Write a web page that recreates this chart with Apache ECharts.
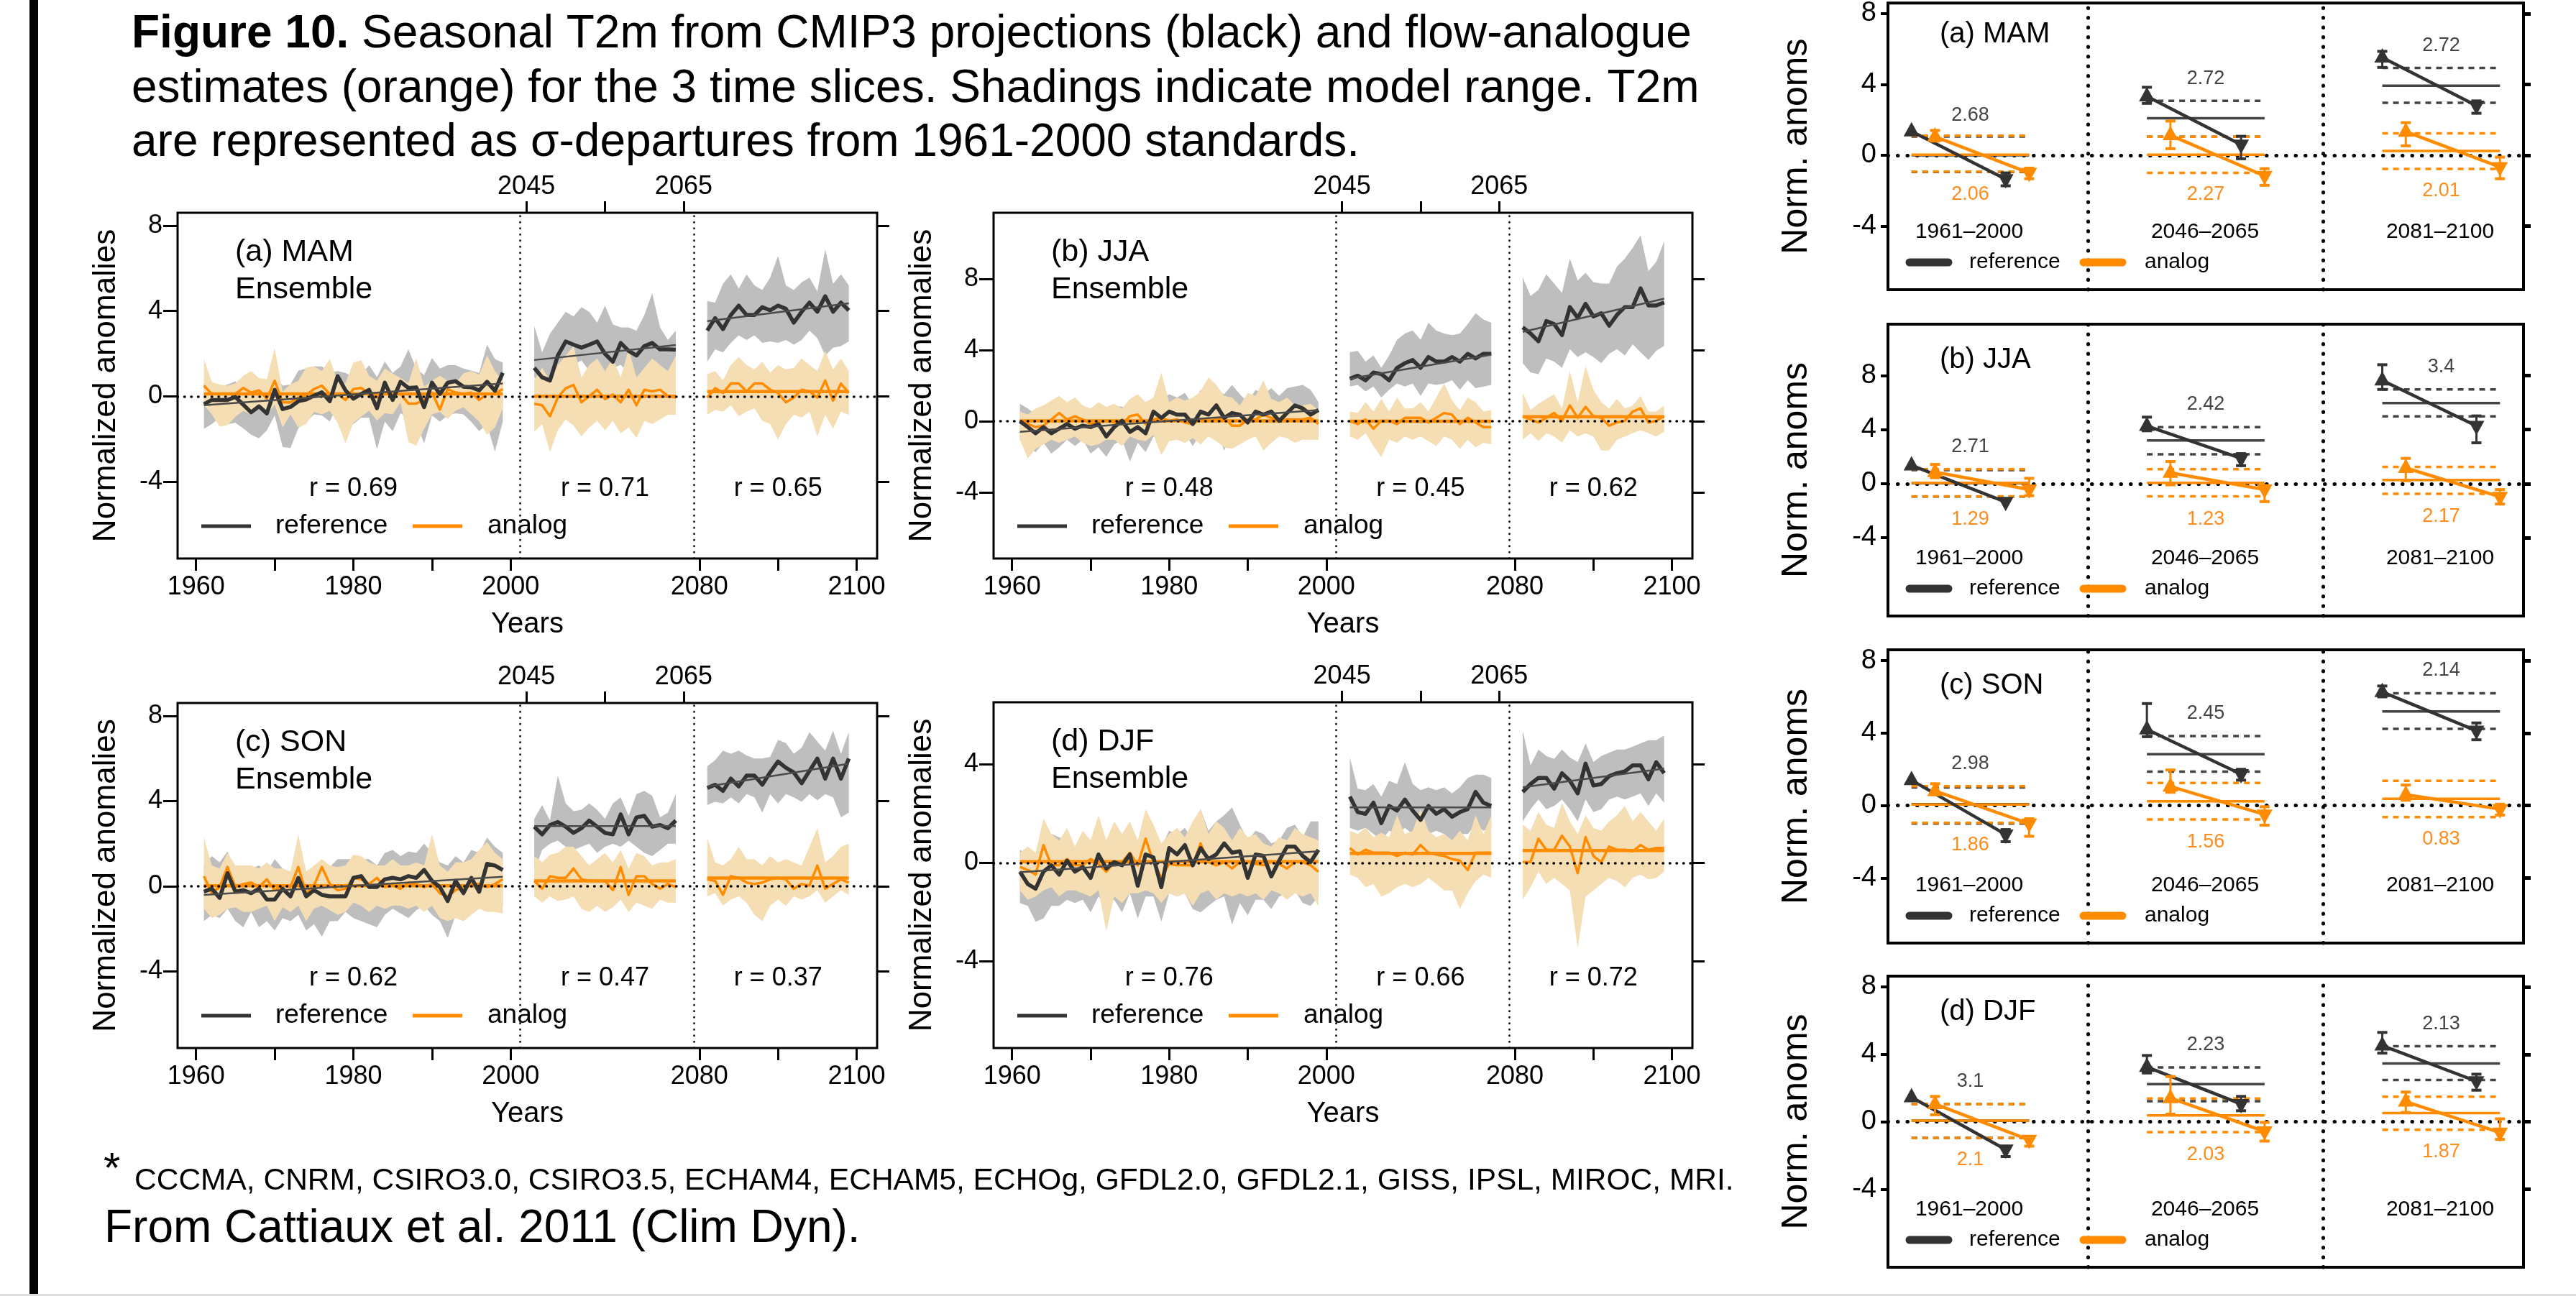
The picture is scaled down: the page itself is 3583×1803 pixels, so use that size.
<!DOCTYPE html>
<html><head><meta charset="utf-8">
<script src="https://cdn.jsdelivr.net/npm/echarts@6/dist/echarts.min.js"></script>
<style>html,body{margin:0;padding:0;background:#fff;}#c{width:3583px;height:1803px;}</style>
</head><body><div id="c"></div>
<script>
// ---------------- DATA ----------------
const seasons = ['MAM','JJA','SON','DJF'];
const panelTags = ['(a)','(b)','(c)','(d)'];
const years1 = []; for (let y = 1961; y <= 1999; y++) years1.push(y);
const years2 = []; for (let y = 2046; y <= 2064; y++) years2.push(y);
const years3 = []; for (let y = 2081; y <= 2099; y++) years3.push(y);
const bottomTickYears = [1960,1970,1980,1990,2000,2080,2090,2100];
const bottomLabelYears = [1960,1980,2000,2080,2100];
const topTickYears = [2045,2055,2065];
const topLabelYears = [2045,2065];
const periods = ['1961–2000','2046–2065','2081–2100'];
const rValues = [['0.69','0.71','0.65'],['0.48','0.45','0.62'],['0.62','0.47','0.37'],['0.76','0.66','0.72']];

// MAM
const mamRef = [-0.37,-0.17,-0.17,-0.17,-0.03,-0.39,-0.75,-0.47,-0.8,0.3,-0.6,-0.5,-0.23,-0.15,0.03,0.19,-0.23,0.94,0.28,-0.11,0.11,0.3,-0.56,0.64,-0.17,0.68,0.39,0.42,-0.51,0.64,0.11,0.64,0.71,0.45,0.42,0.28,0.68,0.26,1.1,
 1.33,0.89,0.74,1.91,2.57,2.42,2.28,2.42,2.57,1.99,1.62,2.5,2.13,1.91,2.35,2.5,2.2,2.2,2.18,
 3.08,3.66,3.15,3.81,4.25,3.81,3.81,4.18,4.03,4.25,4.1,3.45,3.96,4.39,3.96,4.69,3.96,4.39,4.03];
const mamRefHi = [0.6,0.5,0.45,0.55,0.7,0.3,0.2,0.4,0.2,1.0,0.5,0.55,1.2,1.3,1.4,1.4,1.1,1.18,1.1,0.9,1.0,1.46,0.9,1.63,1.1,1.4,2.2,1.3,1.0,1.8,1.3,1.46,1.46,1.3,1.2,1.1,2.42,1.75,1.58,
 3.3,2.06,2.93,3.45,3.96,3.74,4.18,3.96,3.45,4.25,3.37,3.23,3.23,3.08,3.81,4.83,3.23,2.64,3.08,
 4.47,4.39,5.27,5.71,5.05,5.71,5.2,4.98,5.56,6.58,5.2,4.98,5.34,5.56,4.91,6.88,5.27,5.71,5.2];
const mamRefLo = [-1.52,-1.3,-1.0,-1.3,-1.24,-1.5,-1.8,-1.97,-1.6,-0.9,-2.37,-2.42,-1.5,-1.2,-0.85,-0.9,-1.18,-0.4,-1.41,-1.3,-1.0,-1.0,-2.48,-1.18,-1.63,-0.8,-1.0,-1.3,-2.2,-0.9,-1.18,-0.9,-0.8,-0.85,-1.2,-1.63,-1.3,-2.6,-1.18,
 0.89,0.45,0.6,1.04,1.33,1.47,1.69,1.18,1.26,0.89,1.33,1.47,1.11,0.74,0.74,1.26,0.89,1.18,1.47,
 1.62,2.2,2.06,2.5,2.86,2.64,2.86,2.5,2.57,2.5,2.64,2.42,2.64,3.08,2.72,1.91,2.28,2.35,2.57];
const mamAna = [0.5,0.11,0.11,0.11,0.11,0.39,0.17,0.28,-0.11,0.73,-0.28,-0.28,-0.06,0.06,0.34,0.5,0.11,0.11,-0.17,0.34,0.39,0.11,-0.06,0.17,0.11,0.11,-0.34,-0.34,-0.17,0.17,-0.62,0.34,0.17,0.11,0.17,-0.17,0.11,0.11,0.34,
 -0.35,-0.42,-0.93,-0.06,0.38,0.53,-0.28,0.01,0.31,-0.13,0.09,-0.28,0.31,-0.42,0.31,0.23,0.31,0.01,-0.06,
 -0.06,0.38,0.16,0.6,0.6,0.23,0.6,0.6,0.31,0.16,-0.28,-0.06,0.31,0.23,-0.06,0.74,-0.2,0.6,0.16];
const mamAnaHi = [1.75,0.68,0.55,0.5,0.6,0.96,1.18,0.85,0.8,2.25,0.23,0.56,0.73,1.35,1.4,1.18,1.75,0.73,0.62,1.58,1.69,0.96,0.73,1.3,1.07,0.85,0.62,1.8,0.45,0.73,0.96,0.73,0.62,1.07,1.18,1.01,1.92,1.18,0.73,
 0.74,1.33,0.74,1.47,1.91,2.35,0.89,1.47,1.77,1.18,1.77,0.89,2.2,0.89,1.33,1.77,1.47,1.18,1.91,
 1.04,1.18,0.74,1.47,1.84,1.47,1.26,1.62,1.11,1.47,1.26,1.33,1.77,1.47,1.18,2.13,1.26,1.77,1.18];
const mamAnaLo = [-0.39,-0.85,-1.41,-1.35,-0.96,-0.68,-0.85,-0.51,-0.85,-0.39,-1.46,-0.85,-1.46,-1.3,-0.73,-0.85,-0.68,-1.24,-2.2,-1.24,-0.96,-0.68,-1.13,-0.79,-0.85,-0.28,-2.14,-2.31,-1.52,-0.85,-0.73,-1.07,-0.68,-0.51,-0.85,-1.18,-1.8,-1.46,-0.56,
 -1.66,-1.3,-2.61,-1.59,-1.08,-1.37,-1.88,-1.45,-1.15,-1.59,-1.15,-1.74,-1.45,-1.96,-1.15,-1.3,-1.08,-0.86,-0.86,
 -0.86,-0.64,-0.72,-0.42,-0.93,-0.72,-0.57,-1.15,-1.3,-2.03,-1.3,-0.86,-1.0,-0.72,-1.88,-0.86,-1.52,-0.72,-0.86];
const mamRefTrend = [[-0.42,0.6],[1.7,2.4],[3.52,4.36]];
const mamAnaTrend = [[0.11,0.11],[0.0,0.0],[0.22,0.22]];

// JJA
const jjaRef = [0,-0.33,-0.68,-0.33,-0.68,-0.42,-0.16,-0.42,-0.25,-0.33,-0.16,-0.86,-0.33,0.02,-0.6,-0.33,-0.68,0.54,0.19,0.54,0.37,0.37,-0.16,0.54,0.37,0.89,0.19,0.46,0.37,-0.07,0.54,0.37,0.54,0.02,0.46,0.89,0.72,0.37,0.63,
 2.39,2.56,2.3,2.74,2.65,2.3,3.0,3.26,3.44,3.0,3.61,3.35,3.35,3.61,3.35,3.79,3.53,3.79,3.79,
 5.28,4.93,4.49,5.63,5.46,4.84,6.42,5.81,6.6,5.89,6.07,5.37,5.98,6.42,6.42,7.47,6.51,6.51,6.68];
const jjaRefHi = [0.98,0.72,0.37,0.72,0.54,0.72,0.89,0.72,0.89,0.37,0.54,0.37,0.89,0.81,0.72,1.07,0.54,1.07,1.25,1.51,1.33,1.6,0.89,1.77,1.42,1.77,1.51,2.04,1.51,1.07,1.77,1.51,1.86,1.42,1.86,1.95,2.04,1.77,1.07,
 3.88,3.96,3.35,3.7,3.0,3.7,4.58,4.93,5.1,4.58,5.54,5.1,4.93,4.84,4.93,5.46,6.07,5.72,5.54,
 8.09,7.04,7.39,8.26,7.74,7.21,9.14,7.91,8.35,7.82,7.74,7.74,8.7,9.14,9.75,10.46,8.44,8.96,10.1];
const jjaRefLo = [-1.04,-1.47,-1.74,-1.21,-1.82,-1.47,-1.04,-1.39,-1.04,-1.82,-1.47,-2.0,-1.3,-1.04,-2.26,-1.21,-1.74,-0.86,-1.04,-0.6,-0.42,-0.68,-1.39,-0.68,-0.68,-0.51,-1.65,-0.68,-1.21,-0.95,-0.68,-0.51,-1.04,-0.42,-0.33,-0.16,-0.16,-0.33,-0.86,
 1.95,2.04,1.68,1.95,1.33,1.77,2.12,1.95,2.12,1.42,2.12,2.04,2.12,2.3,1.77,2.3,1.86,1.95,2.04,
 3.26,2.74,2.65,3.53,3.35,3.0,4.05,3.61,3.88,3.61,3.26,3.79,4.05,3.7,4.32,3.88,3.44,3.96,4.23];
const jjaAna = [0.02,-0.16,-0.33,-0.25,0.1,0.46,0.1,0.28,0.1,-0.16,-0.07,0.02,-0.07,-0.16,0.28,0.37,-0.16,0.1,0.19,0.02,0.1,-0.07,-0.16,0.1,0.02,0.1,0.19,-0.25,-0.25,0.1,0.1,0.37,0.19,0.02,0.1,0.1,0.1,0.19,-0.16,
 0.02,-0.16,0.1,-0.42,0.02,0.02,-0.16,0.19,0.19,0.19,-0.07,0.19,0.46,0.37,-0.16,0.19,-0.07,-0.33,-0.33,
 0.28,0.1,-0.07,0.19,0.46,0.02,0.89,0.19,0.81,0.28,0.19,-0.25,-0.07,0.02,0.54,0.72,-0.07,0.02,0.28];
const jjaAnaHi = [0.54,0.37,0.72,0.89,1.16,1.42,1.07,1.33,0.89,0.72,1.07,0.81,0.98,0.72,1.25,1.51,1.07,1.33,2.74,1.07,1.33,1.16,1.33,1.68,2.47,2.04,1.42,1.33,0.89,1.6,1.42,2.3,1.25,1.07,1.33,0.89,0.89,0.98,0.63,
 0.54,0.46,1.07,0.54,1.25,0.54,1.33,0.72,0.72,1.07,0.54,1.33,2.12,1.16,0.63,1.33,1.07,0.54,0.63,
 1.6,0.63,0.98,1.25,1.51,0.72,2.82,1.07,3.09,1.77,1.07,0.72,1.25,0.72,0.89,1.42,0.54,0.54,0.89];
const jjaAnaLo = [-1.04,-2.09,-1.56,-1.3,-1.04,-1.21,-1.04,-0.86,-1.21,-1.39,-1.3,-1.04,-1.04,-1.39,-0.86,-1.04,-1.12,-0.77,-1.91,-1.12,-1.04,-1.21,-0.95,-1.3,-0.86,-1.12,-1.47,-1.56,-1.3,-1.04,-0.86,-1.65,-1.21,-0.86,-0.95,-1.21,-1.04,-1.04,-1.04,
 -0.86,-1.04,-0.68,-1.39,-2.02,-1.04,-1.21,-0.86,-1.04,-0.86,-1.12,-1.39,-0.86,-1.04,-1.56,-1.04,-1.47,-1.21,-1.3,
 -1.04,-0.68,-1.12,-0.68,-0.86,-1.21,-0.51,-0.86,-0.68,-0.86,-1.65,-1.65,-1.04,-0.86,-0.68,-0.51,-0.68,-0.86,-0.6];
const jjaRefTrend = [[-0.6,0.63],[2.39,3.74],[5.02,6.89]];
const jjaAnaTrend = [[0.02,0.02],[0.0,0.0],[0.25,0.25]];

// SON
const sonRef = [-0.26,-0.12,-0.55,0.61,-0.26,-0.19,-0.33,-0.12,-0.63,-0.63,-0.12,-0.48,0.39,-0.48,-0.19,-0.41,-0.48,-0.48,-0.48,0.39,0.47,-0.04,-0.04,0.32,0.39,0.32,0.47,0.39,0.76,0.25,-0.04,-0.7,0.25,-0.33,0.39,-0.26,1.05,0.97,0.76,
 2.79,2.43,2.87,3.01,2.79,2.5,2.72,3.08,2.79,2.5,2.43,3.37,2.43,3.23,3.3,2.79,2.87,2.72,3.08,
 4.61,4.76,4.47,5.05,4.68,5.19,5.19,4.76,5.34,5.85,5.56,5.34,4.83,5.41,5.99,5.05,5.99,5.05,5.99];
const sonRefHi = [0.97,1.41,1.12,1.63,0.68,0.97,0.83,0.97,0.68,1.27,0.83,0.68,1.56,0.68,0.83,0.68,0.9,1.27,1.27,1.27,1.27,1.27,0.97,1.56,1.7,1.41,1.63,1.56,1.99,1.56,1.12,0.97,1.41,1.12,1.7,1.56,2.28,1.85,1.56,
 3.16,3.81,3.08,5.19,3.88,3.52,3.59,3.88,3.59,3.16,3.88,4.17,3.3,4.32,4.47,4.25,3.23,3.45,4.32,
 5.63,5.92,6.36,6.21,6.36,6.14,5.99,5.99,6.07,6.87,6.72,6.21,6.5,7.23,6.79,6.36,7.3,6.21,7.23];
const sonRefLo = [-1.64,-1.35,-1.5,-1.06,-1.64,-1.93,-1.21,-1.93,-1.64,-2.08,-1.5,-1.64,-1.35,-2.08,-1.79,-2.37,-1.64,-1.64,-1.21,-1.5,-1.64,-1.79,-1.93,-1.35,-1.06,-1.28,-1.5,-1.13,-0.92,-1.35,-1.64,-2.44,-1.35,-1.64,-1.21,-1.06,-0.48,-0.63,-0.92,
 0.68,1.7,1.99,2.14,1.85,1.7,1.85,1.99,1.56,1.85,1.99,1.85,2.14,1.85,1.56,1.41,1.7,1.99,1.99,
 3.81,3.96,3.88,4.17,3.88,4.32,4.17,3.45,4.32,3.88,4.32,4.17,3.96,4.32,4.03,4.32,4.17,3.23,3.45];
const sonAna = [0.47,-0.33,-0.04,0.9,-0.04,0.1,0.17,-0.04,0.32,-0.19,0.03,-0.04,0.9,-0.33,0.03,0.9,0.1,-0.19,-0.12,0.39,0.32,0.1,0.39,-0.04,0.03,-0.12,0.17,0.1,-0.04,0.1,-0.33,-0.48,-0.19,-0.04,0.1,0.1,-0.04,0.1,0.32,
 0.25,-0.12,0.47,0.39,0.39,0.83,0.32,0.25,0.25,0.25,-0.19,0.9,-0.41,0.47,0.47,0.1,-0.12,0.1,-0.04,
 0.32,0.25,-0.41,0.47,0.39,0.17,0.1,0.17,0.32,0.39,0.32,-0.12,0.1,0.03,0.97,-0.12,0.1,0.32,0.17];
const sonAnaHi = [2.28,0.97,0.83,1.56,0.97,0.97,0.97,0.83,1.12,0.83,0.83,0.68,2.43,0.68,0.97,1.27,0.97,0.9,0.97,1.48,1.41,1.12,0.97,0.97,1.27,0.97,0.97,1.12,0.97,2.43,0.97,0.68,1.12,1.12,1.27,1.7,2.07,1.56,1.27,
 1.41,1.12,1.48,1.56,1.85,1.85,1.41,0.97,1.27,1.56,1.12,1.7,0.83,1.56,1.41,0.97,1.12,1.12,1.27,
 2.28,1.12,0.97,1.27,1.85,1.27,1.27,0.97,1.41,1.12,1.27,1.12,0.97,1.85,2.72,1.12,1.41,1.85,1.99];
const sonAnaLo = [-1.06,-1.5,-1.35,-1.06,-0.99,-1.21,-1.21,-1.06,-0.92,-1.64,-0.99,-1.21,-0.92,-1.64,-1.06,-0.92,-1.13,-1.35,-1.21,-0.77,-0.92,-1.21,-0.92,-1.06,-0.92,-0.92,-1.06,-0.92,-1.21,-0.92,-1.5,-1.64,-1.5,-1.64,-1.35,-1.06,-1.21,-1.21,-1.28,
 -0.48,-0.77,-0.48,-0.7,-0.63,-0.48,-1.06,-1.21,-0.92,-1.21,-0.99,-0.63,-1.21,-0.77,-0.92,-1.06,-0.63,-0.77,-0.77,
 -0.48,-0.33,-0.92,-0.63,-0.48,-0.77,-1.35,-1.64,-0.92,-0.63,-0.92,-0.48,-0.63,-0.48,-0.19,-0.77,-0.48,-0.19,-0.41];
const sonRefTrend = [[-0.41,0.44],[2.82,2.82],[4.68,5.75]];
const sonAnaTrend = [[0.02,0.02],[0.25,0.25],[0.38,0.38]];

// DJF
const djfRef = [-0.36,-0.86,-1.05,-0.36,-0.1,-0.48,0.09,-0.36,-0.17,-0.61,0.34,-0.23,0.03,-0.1,0.34,-0.93,0.34,0.22,-0.99,0.6,0.34,0.72,-0.1,0.6,0.15,0.34,0.79,0.41,0.47,-0.61,0.34,0.28,-0.55,0.09,0.66,0.66,0.28,0.03,0.53,
 2.69,2.06,1.99,2.44,1.61,2.31,2.12,2.57,2.12,1.74,2.31,1.99,2.18,1.87,2.06,2.18,2.88,2.44,2.31,
 2.88,3.2,3.45,3.45,3.01,3.64,3.33,2.82,4.03,3.14,3.2,3.52,3.64,3.71,3.96,3.96,3.39,4.09,3.64];
const djfRefHi = [0.53,0.34,0.15,0.66,1.17,1.04,0.91,0.66,0.79,0.41,1.17,0.79,0.91,0.66,1.17,0.28,1.3,1.04,0.66,1.3,1.17,1.42,0.91,2.18,1.3,1.68,1.93,2.25,1.55,0.91,1.3,1.17,0.79,0.91,1.42,1.55,1.04,1.68,1.68,
 4.28,3.01,2.95,3.2,2.69,3.33,3.2,4.09,3.2,2.95,3.07,2.95,3.07,2.82,3.07,3.45,3.58,3.58,3.45,
 5.36,3.96,4.6,4.34,4.22,4.6,4.28,4.09,4.85,4.09,4.34,4.47,4.6,4.6,4.72,4.85,4.98,4.98,5.17];
const djfRefLo = [-1.63,-1.75,-2.39,-2.26,-1.75,-1.75,-1.5,-1.63,-1.5,-2.01,-1.37,-1.75,-1.5,-2.01,-1.24,-2.26,-1.37,-1.37,-2.39,-1.24,-1.37,-1.24,-1.88,-2.01,-1.75,-1.5,-1.37,-2.51,-1.63,-2.13,-1.5,-1.5,-1.88,-1.37,-1.24,-1.12,-1.63,-1.75,-1.37,
 1.42,1.3,1.42,1.17,0.91,1.3,1.17,1.42,1.17,0.91,1.17,1.3,1.17,0.91,1.17,1.17,1.55,1.3,1.42,
 1.68,2.18,2.57,2.18,2.31,2.57,2.18,1.68,2.57,2.06,2.18,2.57,2.69,2.57,2.69,2.82,2.31,2.82,2.44];
const djfAna = [-0.17,-0.29,-0.48,0.72,-0.1,-0.1,0.15,-0.1,-0.1,0.15,-0.04,-0.36,0.03,0.03,0.41,-0.1,0.98,0.03,-0.61,-0.04,-0.1,-0.1,-0.1,0.79,0.03,-0.1,0.03,-0.23,0.03,0.03,-0.04,-0.1,0.03,-0.04,-0.23,0.03,0.03,-0.1,-0.36,
 0.6,0.34,0.53,0.41,0.41,0.41,0.28,0.41,0.34,0.72,0.41,0.34,0.28,0.15,0.09,-0.29,0.41,0.41,0.41,
 0.03,0.03,0.98,0.53,0.53,1.1,0.66,-0.42,1.04,0.28,0.03,0.66,0.53,0.53,0.47,0.72,0.53,0.6,0.6];
const djfAnaHi = [0.41,0.66,0.41,1.8,1.17,0.91,1.42,0.66,1.3,0.91,1.93,0.91,1.68,1.17,1.68,0.91,2.18,1.55,0.79,1.17,1.42,1.04,1.68,2.18,1.17,1.68,1.42,0.91,1.42,1.04,1.17,0.79,0.66,1.04,0.91,1.42,1.17,1.04,0.91,
 1.3,1.17,1.42,1.04,1.23,1.04,1.93,1.17,1.3,2.18,1.3,1.04,1.17,0.91,1.3,0.91,1.93,1.17,1.93,
 1.55,1.3,2.06,1.55,1.42,2.44,1.68,1.17,1.93,1.42,1.3,1.68,1.93,2.31,1.68,2.06,1.68,1.3,1.8];
const djfAnaLo = [-1.12,-1.5,-1.37,-1.12,-0.99,-1.37,-1.12,-1.12,-1.24,-1.37,-1.12,-2.77,-1.37,-1.63,-1.24,-1.24,-1.12,-1.24,-1.63,-1.24,-1.37,-1.24,-1.75,-1.24,-1.12,-1.5,-1.24,-1.37,-1.24,-1.37,-1.24,-1.5,-1.12,-1.24,-1.5,-1.24,-1.37,-1.24,-1.75,
 -0.48,-0.61,-0.99,-0.86,-1.37,-1.24,-0.99,-0.86,-0.99,-0.86,-0.61,-0.86,-1.12,-1.12,-1.88,-1.24,-0.74,-0.48,-0.61,
 -1.5,-0.99,-0.36,-0.86,-0.61,-0.86,-1.12,-3.47,-1.37,-1.12,-0.86,-0.61,-0.74,-0.99,-0.61,-0.48,-0.67,-0.61,-0.36];
const djfRefTrend = [[-0.38,0.47],[2.25,2.25],[3.07,3.83]];
const djfAnaTrend = [[0.05,0.05],[0.38,0.38],[0.5,0.5]];

// Right column: rows MAM, JJA, SON, DJF ; columns = the 3 periods
const refUp     = [[1.35,3.33,5.52],[1.35,4.27,7.64],[1.4,4.2,6.27],[1.45,3.25,4.52]];
const refUpLo   = [[null,2.93,4.96],[null,3.91,6.97],[null,3.8,6.0],[null,2.89,4.07]];
const refUpHi   = [[null,3.84,5.87],[null,4.92,8.8],[null,5.63,6.6],[null,3.93,5.3]];
const refDown   = [[-1.35,0.6,2.8],[-1.36,1.87,4.27],[-1.6,1.73,4.13],[-1.65,1.05,2.4]];
const refDownLo = [[-1.73,-0.2,2.37],[null,1.33,3.02],[-2.0,1.4,3.63],[-2.07,0.65,1.87]];
const refDownHi = [[-1.0,1.07,3.07],[null,2.22,5.01],[-1.33,2.0,4.56],[-1.5,1.5,2.82]];
const refMean   = [[0.0,2.09,3.93],[0.03,3.2,5.96],[0.07,2.83,5.2],[0.06,2.23,3.46]];
const refDashHi = [[1.05,3.07,4.93],[1.0,4.18,6.97],[1.0,3.84,6.2],[1.05,3.22,4.48]];
const refDashLo = [[-0.95,1.04,2.96],[-0.95,2.17,4.98],[-1.0,1.87,4.23],[-0.96,1.22,2.47]];
const anaUp     = [[1.05,1.13,1.33],[0.85,0.8,1.16],[0.8,1.05,0.6],[1.05,1.4,1.19]];
const anaUpLo   = [[0.8,0.37,0.53],[0.44,-0.09,0.21],[0.6,0.73,0.29],[0.41,0.45,0.55]];
const anaUpHi   = [[1.4,1.93,1.84],[1.42,1.64,1.87],[1.2,1.96,1.13],[1.5,2.68,1.76]];
const anaDown   = [[-1.0,-1.17,-0.67],[-0.44,-0.44,-0.98],[-1.0,-0.5,-0.2],[-1.08,-0.58,-0.65]];
const anaDownLo = [[-1.33,-1.7,-1.33],[-0.89,-1.33,-1.51],[-1.7,-1.09,-0.53],[-1.45,-1.15,-1.05]];
const anaDownHi = [[-0.73,-0.76,-0.11],[0.39,-0.14,-0.44],[-0.73,-0.07,0.07],[-0.9,-0.04,0.17]];
const anaMean   = [[0.03,0.03,0.24],[0.05,0.05,0.27],[0.05,0.23,0.37],[0.06,0.37,0.51]];
const anaDashHi = [[1.1,1.04,1.24],[1.07,1.07,1.24],[1.07,1.24,1.36],[1.05,1.38,1.48]];
const anaDashLo = [[-0.93,-1.0,-0.77],[-0.94,-0.94,-0.76],[-0.96,-0.77,-0.64],[-0.96,-0.62,-0.48]];
const refDiff = [['2.68','2.72','2.72'],['2.71','2.42','3.4'],['2.98','2.45','2.14'],['3.1','2.23','2.13']];
const anaDiff = [['2.06','2.27','2.01'],['1.29','1.23','2.17'],['1.86','1.56','0.83'],['2.1','2.03','1.87']];

// ---------------- LAYOUT / STYLE ----------------
const FF = '"Liberation Sans", Arial, Helvetica, sans-serif';
const C_DARK = '#333333', C_OR = '#FF8C00', C_GRAY = '#BEBEBE', C_WHEAT = '#F5DEB3';
const XMIN = -2.35, XMAX = 86.6;
const LG = [
  {l:247, t:296, w:973, h:481, ylim:[-7,8],  yt:[-4,0,4,8]},
  {l:1382,t:296, w:972, h:481, ylim:[-7,11], yt:[-4,0,4,8]},
  {l:247, t:978, w:973, h:480, ylim:[-7,8],  yt:[-4,0,4,8]},
  {l:1382,t:977, w:972, h:481, ylim:[-7,6],  yt:[-4,0,4]}
];
const RG = [
  {l:2626,t:-2,  w:884,h:405, ylim:[-7,8],  off:2.25},
  {l:2626,t:451, w:884,h:406, ylim:[-9,11], off:2.68},
  {l:2626,t:904, w:884,h:408, ylim:[-7,8],  off:2.25},
  {l:2626,t:1358,w:884,h:405, ylim:[-8,8],  off:2.32}
];
const ext = a => { const d = (a[1]-a[0])*0.04; return [a[0]-d, a[1]+d]; };
const posOf = y => y <= 2000 ? y - 1960 : (y <= 2072 ? y - 2003 : y - 2016);
const allYears = years1.concat(years2, years3);
const POS = allYears.map(posOf);
const SEG = [[0, years1.length], [years1.length, years1.length+years2.length], [years1.length+years2.length, allYears.length]];
const labelMap = {};
bottomTickYears.concat(topTickYears).forEach(y => labelMap[posOf(y)] = String(y));

const TS = [
  {ref:mamRef, refLo:mamRefLo, refHi:mamRefHi, ana:mamAna, anaLo:mamAnaLo, anaHi:mamAnaHi, rt:mamRefTrend, at:mamAnaTrend},
  {ref:jjaRef, refLo:jjaRefLo, refHi:jjaRefHi, ana:jjaAna, anaLo:jjaAnaLo, anaHi:jjaAnaHi, rt:jjaRefTrend, at:jjaAnaTrend},
  {ref:sonRef, refLo:sonRefLo, refHi:sonRefHi, ana:sonAna, anaLo:sonAnaLo, anaHi:sonAnaHi, rt:sonRefTrend, at:sonAnaTrend},
  {ref:djfRef, refLo:djfRefLo, refHi:djfRefHi, ana:djfAna, anaLo:djfAnaLo, anaHi:djfAnaHi, rt:djfRefTrend, at:djfAnaTrend}
];

const grids = [], xAxes = [], yAxes = [], series = [], graphics = [];
const tickStyle = {color:'#000', width:3};
const noLine = {show:false, onZero:false};
const pxX = (L, p) => L.l + (p - XMIN) / (XMAX - XMIN) * L.w;
const txt = (text, x, y, size, align) => ({type:'text', silent:true, z:50,
  style:{text, x, y, fontSize:size, fontFamily:FF, fill:'#000', align:align||'left', verticalAlign:'middle', textAlign:align||'left', textVerticalAlign:'middle'}});
const gline = (x1,y1,x2,y2,stroke,w,cap) => ({type:'line', silent:true, z:50, shape:{x1,y1,x2,y2}, style:{stroke, lineWidth:w, lineCap:cap||'butt'}});

// ---------------- LEFT PANELS ----------------
LG.forEach((L, i) => {
  const yr = ext(L.ylim);
  grids.push({left:L.l, top:L.t, width:L.w, height:L.h, show:true, borderColor:'#000', borderWidth:3, backgroundColor:'rgba(0,0,0,0)'});
  const gi = grids.length - 1;
  const xb = xAxes.length;
  xAxes.push({gridIndex:gi, type:'value', position:'bottom', min:XMIN, max:XMAX,
    axisLine:noLine, splitLine:{show:false},
    axisTick:{show:true, inside:false, length:17, customValues:bottomTickYears.map(posOf), lineStyle:tickStyle},
    axisLabel:{show:true, customValues:bottomLabelYears.map(posOf), formatter:v => labelMap[v] || '', fontSize:36, color:'#000', fontFamily:FF, margin:22},
    name:'Years', nameLocation:'middle', nameGap:72, nameTextStyle:{fontSize:40, color:'#000', fontFamily:FF}});
  xAxes.push({gridIndex:gi, type:'value', position:'top', min:XMIN, max:XMAX,
    axisLine:noLine, splitLine:{show:false},
    axisTick:{show:true, inside:false, length:16, customValues:topTickYears.map(posOf), lineStyle:tickStyle},
    axisLabel:{show:true, customValues:topLabelYears.map(posOf), formatter:v => labelMap[v] || '', fontSize:36, color:'#000', fontFamily:FF, margin:18}});
  const yl = yAxes.length;
  yAxes.push({gridIndex:gi, type:'value', position:'left', min:yr[0], max:yr[1],
    axisLine:noLine, splitLine:{show:false},
    axisTick:{show:true, inside:false, length:20, customValues:L.yt, lineStyle:tickStyle},
    axisLabel:{show:true, customValues:L.yt, fontSize:36, color:'#000', fontFamily:FF, margin:21},
    name:'Normalized anomalies', nameLocation:'middle', nameRotate:90, nameGap:77,
    nameTextStyle:{fontSize:44, color:'#000', fontFamily:FF}});
  yAxes.push({gridIndex:gi, type:'value', position:'right', min:yr[0], max:yr[1],
    axisLine:noLine, splitLine:{show:false},
    axisTick:{show:true, inside:false, length:17, customValues:L.yt, lineStyle:tickStyle},
    axisLabel:{show:false}});
  const D = TS[i];
  const band = (lo, hi, color, z) => ({type:'custom', xAxisIndex:xb, yAxisIndex:yl, silent:true, z,
    data:[[0,0],[1,0],[2,0]],
    renderItem:(params, api) => {
      const [a, b] = SEG[params.dataIndex];
      const pts = [];
      for (let j = a; j < b; j++) pts.push(api.coord([POS[j], hi[j]]));
      for (let j = b - 1; j >= a; j--) pts.push(api.coord([POS[j], lo[j]]));
      return {type:'polygon', shape:{points:pts}, style:{fill:color}};
    }});
  series.push(band(D.refLo, D.refHi, C_GRAY, 1));
  series.push(band(D.anaLo, D.anaHi, C_WHEAT, 2));
  series.push({type:'line', xAxisIndex:xb, yAxisIndex:yl, data:[], z:3, silent:true,
    markLine:{silent:true, symbol:'none', animation:false, label:{show:false},
      data:[
        {yAxis:0, lineStyle:{type:[0.5,9], cap:'round', width:3.5, color:'#000'}},
        {xAxis:41.2, lineStyle:{type:[0.5,8], cap:'round', width:2.6, color:'#000'}},
        {xAxis:63.3, lineStyle:{type:[0.5,8], cap:'round', width:2.6, color:'#000'}}
      ]}});
  SEG.forEach(([a, b], k) => {
    const idx = []; for (let j = a; j < b; j++) idx.push(j);
    series.push({type:'line', xAxisIndex:xb, yAxisIndex:yl, z:4, silent:true, symbol:'none', showSymbol:false,
      data:idx.map(j => [POS[j], D.ana[j]]), lineStyle:{color:C_OR, width:3.5, join:'round'}});
    series.push({type:'line', xAxisIndex:xb, yAxisIndex:yl, z:4, silent:true, symbol:'none', showSymbol:false,
      data:[[POS[a], D.at[k][0]], [POS[b-1], D.at[k][1]]], lineStyle:{color:C_OR, width:4.5}});
    series.push({type:'line', xAxisIndex:xb, yAxisIndex:yl, z:5, silent:true, symbol:'none', showSymbol:false,
      data:idx.map(j => [POS[j], D.ref[j]]), lineStyle:{color:C_DARK, width:5.5, join:'round'}});
    series.push({type:'line', xAxisIndex:xb, yAxisIndex:yl, z:6, silent:true, symbol:'none', showSymbol:false,
      data:[[POS[a], D.rt[k][0]], [POS[b-1], D.rt[k][1]]], lineStyle:{color:'#4a4a4a', width:2.5}});
  });
  graphics.push(txt(panelTags[i] + ' ' + seasons[i], L.l + 80, L.t + 55, 43));
  graphics.push(txt('Ensemble', L.l + 80, L.t + 107, 43));
  [20, 52, 74].forEach((p, k) => graphics.push(txt('r = ' + rValues[i][k], pxX(L, p), L.t + L.h - 97, 36, 'center')));
  const ly = L.t + L.h - 45;
  graphics.push(gline(L.l + 33, ly, L.l + 102, ly, C_DARK, 5));
  graphics.push(txt('reference', L.l + 136, ly, 37));
  graphics.push(gline(L.l + 327, ly, L.l + 396, ly, C_OR, 5));
  graphics.push(txt('analog', L.l + 431, ly, 37));
});

// ---------------- RIGHT PANELS ----------------
const RX = [0.75, 3.25];
RG.forEach((R, i) => {
  const yr = ext(R.ylim), xr = ext(RX);
  grids.push({left:R.l, top:R.t, width:R.w, height:R.h, show:true, borderColor:'#000', borderWidth:4, backgroundColor:'rgba(0,0,0,0)'});
  const gi = grids.length - 1;
  const xi = xAxes.length;
  xAxes.push({gridIndex:gi, type:'value', min:xr[0], max:xr[1], show:false, axisLine:noLine});
  const yi = yAxes.length;
  yAxes.push({gridIndex:gi, type:'value', position:'left', min:yr[0], max:yr[1],
    axisLine:noLine, splitLine:{show:false},
    axisTick:{show:true, inside:false, length:10, customValues:[-4,0,4,8], lineStyle:{color:'#000', width:4}},
    axisLabel:{show:true, customValues:[-4,0,4,8], fontSize:38, color:'#000', fontFamily:FF, margin:16},
    name:'Norm. anoms', nameLocation:'middle', nameRotate:90, nameGap:102,
    nameTextStyle:{fontSize:50, color:'#000', fontFamily:FF}});
  yAxes.push({gridIndex:gi, type:'value', position:'right', min:yr[0], max:yr[1],
    axisLine:noLine, splitLine:{show:false},
    axisTick:{show:true, inside:false, length:10, customValues:[-4,0,4,8], lineStyle:{color:'#000', width:5}},
    axisLabel:{show:false}});
  series.push({type:'line', xAxisIndex:xi, yAxisIndex:yi, data:[], z:3, silent:true,
    markLine:{silent:true, symbol:'none', animation:false, label:{show:false},
      data:[
        {yAxis:0, lineStyle:{type:[0.5,13], cap:'round', width:5, color:'#000'}},
        {xAxis:1.5, lineStyle:{type:[0.5,13], cap:'round', width:5, color:'#000'}},
        {xAxis:2.5, lineStyle:{type:[0.5,13], cap:'round', width:5, color:'#000'}}
      ]}});
  series.push({type:'custom', xAxisIndex:xi, yAxisIndex:yi, silent:true, z:10,
    data:[[1,0],[2,0],[3,0]],
    renderItem:(params, api) => {
      const k = params.dataIndex, c = k + 1;
      const P = (x, y) => api.coord([x, y]);
      const ch = [];
      const seg = (x1, y1, x2, y2, stroke, w, dash) => {
        const a = P(x1, y1), b = P(x2, y2);
        ch.push({type:'line', shape:{x1:a[0], y1:a[1], x2:b[0], y2:b[1]}, style:{stroke, lineWidth:w, lineDash:dash || null}});
      };
      const err = (x, lo, hi, col) => {
        if (lo == null || hi == null) return;
        const a = P(x, lo), b = P(x, hi);
        ch.push({type:'line', shape:{x1:a[0], y1:a[1], x2:b[0], y2:b[1]}, style:{stroke:col, lineWidth:3}});
        [a, b].forEach(q => ch.push({type:'line', shape:{x1:q[0]-7, y1:q[1], x2:q[0]+7, y2:q[1]}, style:{stroke:col, lineWidth:4}}));
      };
      const tri = (x, y, up, col) => {
        const p = P(x, y);
        const pts = up ? [[p[0], p[1]-13], [p[0]-11, p[1]+7], [p[0]+11, p[1]+7]]
                       : [[p[0], p[1]+13], [p[0]-11, p[1]-7], [p[0]+11, p[1]-7]];
        ch.push({type:'polygon', shape:{points:pts}, style:{fill:col}});
      };
      const lab = (t, x, y, col) => {
        const p = P(x, y);
        ch.push({type:'text', style:{text:t, x:p[0], y:p[1], fill:col, fontSize:27, fontFamily:FF, align:'center', verticalAlign:'middle', textAlign:'center', textVerticalAlign:'middle'}});
      };
      const dash = [8, 7];
      seg(c-0.25, refDashHi[i][k], c+0.25, refDashHi[i][k], '#444', 3.5, dash);
      seg(c-0.25, refDashLo[i][k], c+0.25, refDashLo[i][k], '#444', 3.5, dash);
      seg(c-0.25, refMean[i][k], c+0.25, refMean[i][k], '#444', 3.5);
      seg(c-0.25, anaDashHi[i][k], c+0.25, anaDashHi[i][k], C_OR, 3.5, dash);
      seg(c-0.25, anaDashLo[i][k], c+0.25, anaDashLo[i][k], C_OR, 3.5, dash);
      seg(c-0.25, anaMean[i][k], c+0.25, anaMean[i][k], C_OR, 3.5);
      seg(c-0.25, refUp[i][k], c+0.15, refDown[i][k], C_DARK, 4.5);
      err(c-0.25, refUpLo[i][k], refUpHi[i][k], C_DARK);
      err(c+0.15, refDownLo[i][k], refDownHi[i][k], C_DARK);
      tri(c-0.25, refUp[i][k], true, C_DARK);
      tri(c+0.15, refDown[i][k], false, C_DARK);
      seg(c-0.15, anaUp[i][k], c+0.25, anaDown[i][k], C_OR, 4.5);
      err(c-0.15, anaUpLo[i][k], anaUpHi[i][k], C_OR);
      err(c+0.25, anaDownLo[i][k], anaDownHi[i][k], C_OR);
      tri(c-0.15, anaUp[i][k], true, C_OR);
      tri(c+0.25, anaDown[i][k], false, C_OR);
      lab(refDiff[i][k], c, refMean[i][k] + R.off, '#444');
      lab(anaDiff[i][k], c, anaMean[i][k] - R.off, '#FF8C1A');
      return {type:'group', children:ch};
    }});
  graphics.push(txt(panelTags[i] + ' ' + seasons[i], 2698, R.t + 50, 40));
  const centers = [2739, 3067, 3394];
  periods.forEach((p, k) => graphics.push(txt(p, centers[k], R.t + R.h - 80, 30, 'center')));
  const ly = R.t + R.h - 38;
  graphics.push(gline(2656, ly, 2710, ly, C_DARK, 11, 'round'));
  graphics.push(txt('reference', 2739, ly, 30));
  graphics.push(gline(2898, ly, 2952, ly, C_OR, 11, 'round'));
  graphics.push(txt('analog', 2983, ly, 30));
});

// ---------------- PAGE TEXT ----------------
graphics.push({type:'rect', silent:true, z:50, shape:{x:41, y:0, width:12, height:1803}, style:{fill:'#000'}});
graphics.push({type:'rect', silent:true, z:50, shape:{x:0, y:1800, width:3583, height:3}, style:{fill:'#dddddd'}});
graphics.push({type:'text', silent:true, z:50, style:{
  text:'{b|Figure 10.}{n| Seasonal T2m from CMIP3 projections (black) and flow-analogue}',
  x:183, y:48, verticalAlign:'middle', textVerticalAlign:'middle', fontSize:64, fontFamily:FF, fill:'#000',
  rich:{b:{fontWeight:'bold', fontSize:64, fontFamily:FF, fill:'#000'}, n:{fontSize:64, fontFamily:FF, fill:'#000'}}}});
graphics.push(txt('estimates (orange) for the 3 time slices. Shadings indicate model range. T2m', 183, 124, 64));
graphics.push(txt('are represented as σ-departures from 1961-2000 standards.', 183, 199, 64));
graphics.push(txt('*', 144, 1628, 60));
graphics.push(txt('CCCMA, CNRM, CSIRO3.0, CSIRO3.5, ECHAM4, ECHAM5, ECHOg, GFDL2.0, GFDL2.1, GISS, IPSL, MIROC, MRI.', 187, 1643, 42.5));
graphics.push(txt('From Cattiaux et al. 2011 (Clim Dyn).', 145, 1710, 64));

const chart = echarts.init(document.getElementById('c'), null, {renderer:'canvas', width:3583, height:1803});
chart.setOption({
  animation:false,
  backgroundColor:'#ffffff',
  textStyle:{fontFamily:FF},
  grid:grids, xAxis:xAxes, yAxis:yAxes, series:series, graphic:graphics
});
</script></body></html>
